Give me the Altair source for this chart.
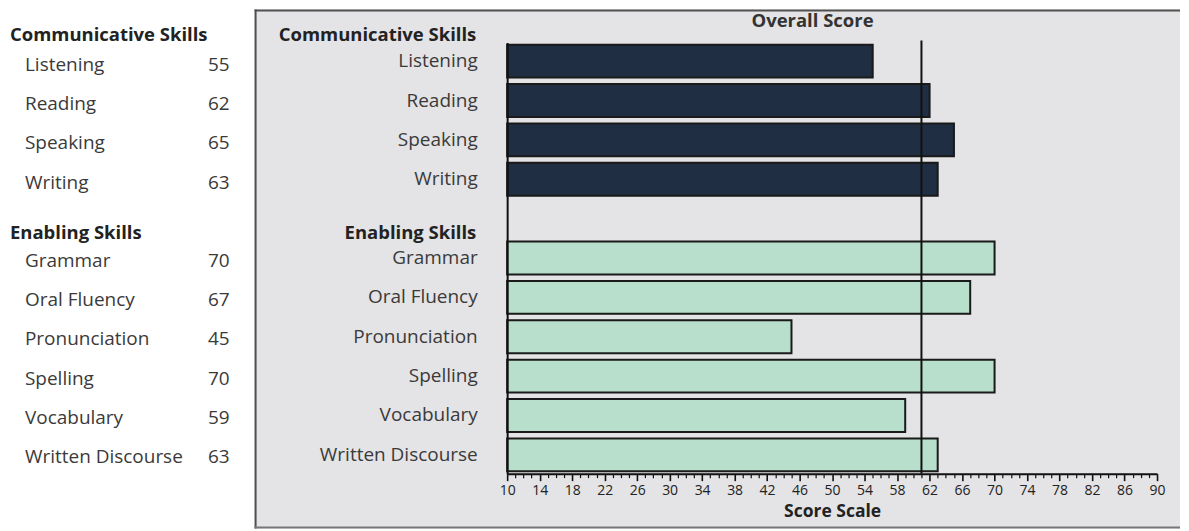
import altair as alt
import pandas as pd

# ---- data ----
comm_skills = ["Listening", "Reading", "Speaking", "Writing"]
comm_scores = [55, 62, 65, 63]
enab_skills = ["Grammar", "Oral Fluency", "Pronunciation", "Spelling", "Vocabulary", "Written Discourse"]
enab_scores = [70, 67, 45, 70, 59, 63]
overall_score = 61
group_titles = ["Communicative Skills", "Enabling Skills"]
axis_title = "Score Scale"
overall_title = "Overall Score"
x_min, x_max = 10, 90

GAP = "_gap"
row_order = comm_skills + [GAP] + enab_skills

rows = pd.DataFrame({
    "skill": comm_skills + enab_skills,
    "score": comm_scores + enab_scores,
    "group": [group_titles[0]] * len(comm_skills) + [group_titles[1]] * len(enab_skills),
})

FONT = "Open Sans"
H = 432
W = 651
PANEL = "#e4e3e5"
BORDER = "#505050"
NAVY = "#1f2e42"
MINT = "#b8dfcb"
FS = 19      # regular text size
FSB = 18.5   # bold header size
RIGHT_EDGE = 674   # keeps the whole page inside the window (no scaling)

yscale = alt.Scale(domain=row_order, paddingInner=0.165, paddingOuter=0.06)
y_enc = alt.Y("skill:N", scale=yscale, axis=None)

# ---------- left table ----------
lbase = alt.Chart(rows)
left_names = lbase.mark_text(align="left", baseline="middle", font=FONT, fontSize=FS,
                             color="#3a3a3a", dy=3).encode(
    x=alt.value(17), y=y_enc, text="skill:N")
left_vals = lbase.mark_text(align="right", baseline="middle", font=FONT, fontSize=FS,
                            color="#3a3a3a", dy=3).encode(
    x=alt.value(222), y=y_enc, text="score:Q")
hdr1 = pd.DataFrame({"skill": [comm_skills[0]], "t": [group_titles[0]]})
hdr2 = pd.DataFrame({"skill": [GAP], "t": [group_titles[1]]})
left_h1 = alt.Chart(hdr1).mark_text(align="left", baseline="middle", font=FONT, fontSize=FSB,
                                    fontWeight="bold", color="#222222", dy=-27).encode(
    x=alt.value(2), y=y_enc, text="t:N")
left_h2 = alt.Chart(hdr2).mark_text(align="left", baseline="middle", font=FONT, fontSize=FSB,
                                    fontWeight="bold", color="#222222", dy=14).encode(
    x=alt.value(2), y=y_enc, text="t:N")
left = alt.layer(left_names, left_vals, left_h1, left_h2).properties(width=246, height=H)

# ---------- right panel ----------
one = pd.DataFrame({"k": [0]})
panel = alt.Chart(one).mark_rect(fill=PANEL, strokeWidth=0).encode(
    x=alt.value(-253), x2=alt.value(RIGHT_EDGE), y=alt.value(-33), y2=alt.value(487))
border_top = alt.Chart(one).mark_rule(color=BORDER, strokeWidth=2).encode(
    x=alt.value(-253), x2=alt.value(RIGHT_EDGE), y=alt.value(-32))
border_left = alt.Chart(one).mark_rule(color=BORDER, strokeWidth=2).encode(
    x=alt.value(-252), y=alt.value(-33), y2=alt.value(487))
border_bottom = alt.Chart(one).mark_rule(color="#777777", strokeWidth=2).encode(
    x=alt.value(-253), x2=alt.value(RIGHT_EDGE), y=alt.value(486))

xscale = alt.Scale(domain=[x_min, x_max], zero=False, nice=False)
xaxis = alt.Axis(
    values=list(range(x_min, x_max + 1)), tickCount=200, format="d",
    labelExpr="datum.value % 4 == 2 ? datum.label : ''",
    labelOverlap=False, labelFont=FONT, labelFontSize=14, labelColor="#222222",
    labelPadding=3, labelFlush=False,
    tickColor="#111111",
    tickSize={"condition": {"test": "datum.value % 4 == 2", "value": 7}, "value": 4},
    tickWidth={"condition": {"test": "datum.value % 4 == 2", "value": 1.6}, "value": 1.2},
    domainColor="#111111", domainWidth=2, grid=False, zindex=2,
    title=axis_title, titleFont=FONT, titleFontSize=17.5, titleFontWeight="bold",
    titleColor="#222222", titlePadding=5,
)
yaxis = alt.Axis(
    title=None, ticks=False, labelPadding=30, labelFont=FONT, labelFontSize=FS,
    labelColor="#3a3a3a", labelExpr="datum.value == '_gap' ? '' : datum.value",
    domainColor="#111111", domainWidth=2, grid=False, zindex=2,
)

bars = alt.Chart(rows).mark_bar(stroke="#1a1a1a", strokeWidth=2).encode(
    x=alt.X("score:Q", scale=xscale, axis=xaxis),
    x2=alt.datum(x_min),
    y=alt.Y("skill:N", scale=yscale, axis=yaxis, sort=row_order),
    color=alt.Color("group:N", scale=alt.Scale(domain=group_titles, range=[NAVY, MINT]), legend=None),
)

ov = pd.DataFrame({"score": [overall_score], "t": [overall_title]})
overall_rule = alt.Chart(ov).mark_rule(color="#111111", strokeWidth=2).encode(
    x=alt.X("score:Q", scale=xscale, axis=xaxis), y=alt.value(-2), y2=alt.value(H))
overall_text = alt.Chart(ov).mark_text(align="right", baseline="middle", font=FONT, fontSize=FSB,
                                       fontWeight="bold", color="#333333", dx=-48).encode(
    x=alt.X("score:Q", scale=xscale, axis=xaxis), y=alt.value(-21), text="t:N")

right_h1 = alt.Chart(hdr1).mark_text(align="right", baseline="middle", font=FONT, fontSize=FSB,
                                     fontWeight="bold", color="#222222", dy=-26).encode(
    x=alt.value(-31), y=alt.Y("skill:N", scale=yscale, axis=yaxis), text="t:N")
right_h2 = alt.Chart(hdr2).mark_text(align="right", baseline="middle", font=FONT, fontSize=FSB,
                                     fontWeight="bold", color="#222222", dy=14).encode(
    x=alt.value(-31), y=alt.Y("skill:N", scale=yscale, axis=yaxis), text="t:N")

right = alt.layer(panel, border_top, border_left, border_bottom, bars, overall_rule,
                  overall_text, right_h1, right_h2).properties(width=W, height=H)

chart = alt.hconcat(left, right, spacing=0).properties(
    padding=0, background="white"
).configure_view(stroke=None)

chart.save("out.html", embed_options={"renderer": "svg", "actions": False})
